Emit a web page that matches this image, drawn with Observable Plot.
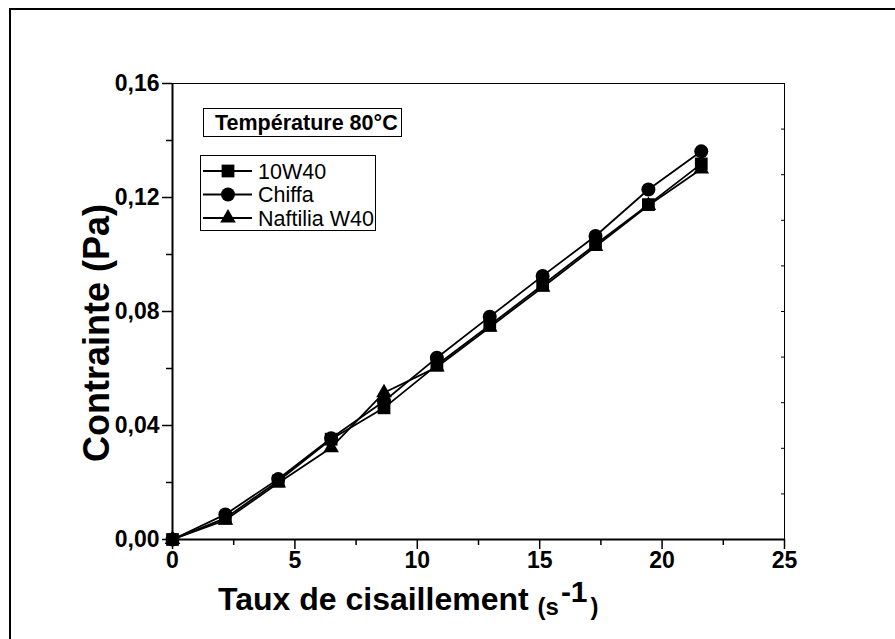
<!DOCTYPE html>
<html>
<head>
<meta charset="utf-8">
<script src="https://cdn.jsdelivr.net/npm/d3@7"></script>
<script src="https://cdn.jsdelivr.net/npm/@observablehq/plot@0.6"></script>
<style>
  html, body { margin: 0; padding: 0; background: #fff; overflow: hidden; }
  #chart svg { display: block; }
</style>
</head>
<body>
<div id="chart"></div>
<script>
// Shear rate (s^-1) at which the stress was measured
const shearRate = [0, 2.16, 4.32, 6.48, 8.64, 10.8, 12.96, 15.12, 17.28, 19.44, 21.6];
// Shear stress (Pa) per oil at 80 °C
const stress10W40 = [0, 0.0075, 0.0205, 0.0352, 0.0462, 0.0612, 0.0752, 0.0893, 0.1035, 0.1175, 0.1318];
const stressChiffa = [0, 0.0088, 0.0212, 0.0355, 0.0485, 0.0638, 0.0782, 0.0925, 0.1065, 0.1228, 0.1362];
const stressNaftilia = [0, 0.0068, 0.0198, 0.0322, 0.0515, 0.0605, 0.0745, 0.0885, 0.1028, 0.1172, 0.1300];

const seriesNames = ["10W40", "Chiffa", "Naftilia W40"];
const seriesSymbols = ["square", "circle", "triangle"];
const seriesRadius = [7.2, 7, 5.8];

// Axis ticks
const xTicks = [0, 5, 10, 15, 20, 25];
const xMinorTicks = [2.5, 7.5, 12.5, 17.5, 22.5];
const yTicks = [0, 0.04, 0.08, 0.12, 0.16];
const yMinorTicks = [0.02, 0.06, 0.10, 0.14];
const yRightTicks = [0.016, 0.032, 0.048, 0.064, 0.08, 0.096, 0.112, 0.128, 0.144];

const titleText = "Température 80°C";
const yTitle = "Contrainte (Pa)";
const xTitle = "Taux de cisaillement ";

const seriesValues = [stress10W40, stressChiffa, stressNaftilia];
const data = seriesNames.flatMap((name, i) =>
  shearRate.map((x, j) => ({series: name, x, y: seriesValues[i][j]})));

const FONT = "'Liberation Sans', Arial, Helvetica, sans-serif";
const commaFmt = d => d.toFixed(2).replace(".", ",");

const svg = Plot.plot({
  width: 895,
  height: 639,
  marginLeft: 172,
  marginRight: 111,
  marginTop: 83,
  marginBottom: 100,
  style: {fontFamily: FONT, background: "#fff", color: "#000"},
  x: {domain: [0, 25]},
  y: {domain: [0, 0.16]},
  marks: [
    Plot.frame({stroke: "#000", strokeWidth: 1}),
    Plot.axisX({ticks: xTicks, tickSize: 10, tickPadding: 2, tickFormat: d => String(d),
      fontSize: 23, fontWeight: "bold", label: null, strokeWidth: 1.5}),
    Plot.axisX({ticks: xMinorTicks, tickSize: 6, tickFormat: () => "", label: null, strokeWidth: 1.5}),
    Plot.axisY({ticks: yTicks, tickSize: 10, tickPadding: 3, tickFormat: commaFmt,
      fontSize: 23, fontWeight: "bold", label: null, strokeWidth: 1.5}),
    Plot.axisY({ticks: yMinorTicks, tickSize: 6, tickFormat: () => "", label: null, strokeWidth: 1.5}),
    Plot.axisY({anchor: "right", ticks: yRightTicks, tickSize: -4, tickFormat: () => "", label: null}),
    Plot.ruleX([0], {stroke: "#000", strokeWidth: 2}),
    Plot.ruleY([0], {stroke: "#000", strokeWidth: 2}),
    Plot.line(data, {x: "x", y: "y", z: "series", stroke: "#000", strokeWidth: 1.8}),
    ...seriesNames.map((name, i) =>
      Plot.dot(data.filter(d => d.series === name),
        {x: "x", y: "y", symbol: () => seriesSymbols[i], r: seriesRadius[i], fill: "#000", stroke: "none"})
    )
  ]
});

const root = d3.select(svg);

// Outer page frame (only top and left edges fall inside the canvas)
root.append("rect")
  .attr("x", 10).attr("y", 9).attr("width", 1000).attr("height", 1000)
  .attr("fill", "none").attr("stroke", "#000").attr("stroke-width", 2);

// Y axis title
root.append("text")
  .attr("transform", "translate(109,333) rotate(-90)")
  .attr("text-anchor", "middle")
  .attr("font-family", FONT).attr("font-weight", "bold").attr("font-size", 36)
  .attr("fill", "#000")
  .text(yTitle);

// X axis title with superscript unit
const xt = root.append("text")
  .attr("x", 218).attr("y", 610)
  .attr("text-anchor", "start")
  .attr("font-family", FONT).attr("font-weight", "bold").attr("fill", "#000");
xt.append("tspan").attr("font-size", 32).text(xTitle);
xt.append("tspan").attr("font-size", 24).attr("dy", 5).text("(s");
xt.append("tspan").attr("font-size", 30).attr("dx", 2).attr("dy", -13).text("-1");
xt.append("tspan").attr("font-size", 24).attr("dx", 3).attr("dy", 13).text(")");

// Temperature label box
const tb = root.append("g");
tb.append("rect").attr("x", 203.5).attr("y", 108.5).attr("width", 198).attr("height", 28)
  .attr("fill", "#fff").attr("stroke", "#000").attr("stroke-width", 1);
tb.append("text").attr("x", 215).attr("y", 130)
  .attr("text-anchor", "start")
  .attr("font-family", FONT).attr("font-weight", "bold").attr("font-size", 21.5).attr("fill", "#000")
  .text(titleText);

// Series legend
const lg = root.append("g");
lg.append("rect").attr("x", 200.5).attr("y", 155.5).attr("width", 175).attr("height", 75)
  .attr("fill", "#fff").attr("stroke", "#000").attr("stroke-width", 1);
const symbolMap = {square: d3.symbolSquare, circle: d3.symbolCircle, triangle: d3.symbolTriangle};
seriesNames.forEach((name, i) => {
  const cy = 171 + i * 23.5;
  lg.append("line").attr("x1", 203).attr("x2", 252).attr("y1", cy).attr("y2", cy)
    .attr("stroke", "#000").attr("stroke-width", 1.8);
  const r = seriesRadius[i];
  lg.append("path")
    .attr("transform", `translate(228,${cy})`)
    .attr("d", d3.symbol(symbolMap[seriesSymbols[i]], Math.PI * r * r)())
    .attr("fill", "#000");
  lg.append("text").attr("x", 258).attr("y", cy + 7.5)
    .attr("text-anchor", "start")
    .attr("font-family", FONT).attr("font-size", 21.5).attr("fill", "#000")
    .text(name);
});

document.getElementById("chart").appendChild(svg);
</script>
</body>
</html>
